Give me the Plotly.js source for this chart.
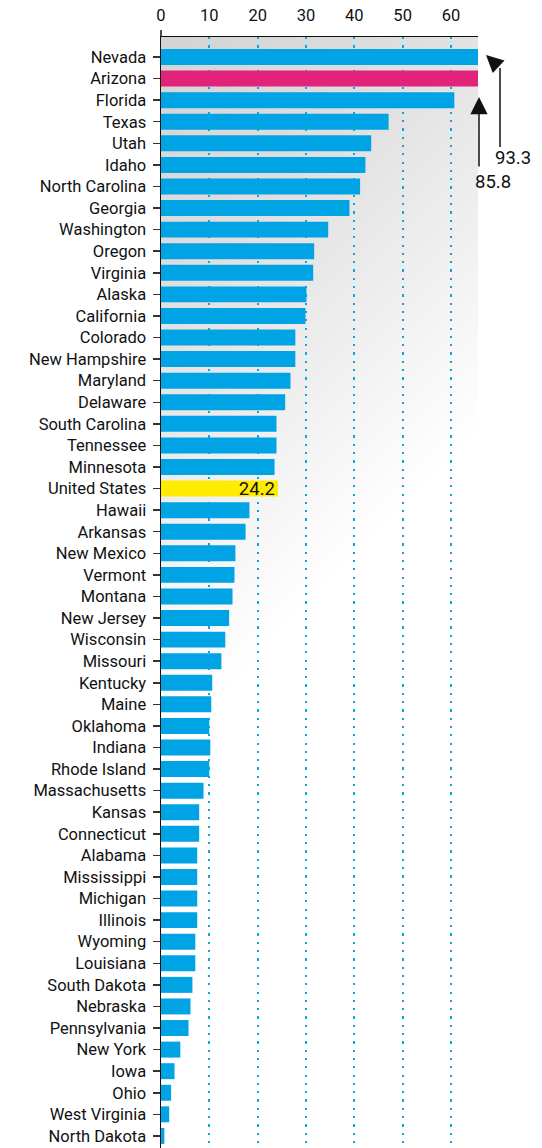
<!DOCTYPE html>
<html>
<head>
<meta charset="utf-8">
<script src="https://cdn.plot.ly/plotly-3.0.1.min.js"></script>
<style>
html,body{margin:0;padding:0;background:#fff;}
#chart{width:542px;height:1148px;}
</style>
</head>
<body>
<div id="chart"></div>
<script>
// ---- data ----
const states = [
  "Nevada","Arizona","Florida","Texas","Utah","Idaho","North Carolina","Georgia",
  "Washington","Oregon","Virginia","Alaska","California","Colorado","New Hampshire",
  "Maryland","Delaware","South Carolina","Tennessee","Minnesota","United States",
  "Hawaii","Arkansas","New Mexico","Vermont","Montana","New Jersey","Wisconsin",
  "Missouri","Kentucky","Maine","Oklahoma","Indiana","Rhode Island","Massachusetts",
  "Kansas","Connecticut","Alabama","Mississippi","Michigan","Illinois","Wyoming",
  "Louisiana","South Dakota","Nebraska","Pennsylvania","New York","Iowa","Ohio",
  "West Virginia","North Dakota"
];
const values = [
  93.3, 85.8, 60.7, 47.1, 43.5, 42.3, 41.2, 39.0,
  34.6, 31.7, 31.5, 30.1, 29.9, 27.8, 27.8,
  26.8, 25.7, 23.9, 23.9, 23.5, 24.2,
  18.3, 17.5, 15.4, 15.2, 14.8, 14.1, 13.3,
  12.5, 10.6, 10.4, 10.0, 10.2, 10.0, 8.8,
  7.9, 7.9, 7.5, 7.5, 7.5, 7.5, 7.1,
  7.1, 6.5, 6.1, 5.7, 4.0, 2.8, 2.1,
  1.7, 0.7
];
const xTicks = [0, 10, 20, 30, 40, 50, 60];
const highlightState = "Arizona";
const averageLabel = "United States";
const offscaleLabels = ["93.3", "85.8"];

// ---- style ----
const BLUE = "#00a3e3", PINK = "#e2237b", YELLOW = "#ffeb00";
const FONT = "Roboto, 'Noto Sans', sans-serif";
const W = 542, H = 1148;
const M = {l: 161, r: 64, t: 37, b: 0};
const PW = W - M.l - M.r, PH = H - M.t - M.b;
const px = v => (v - M.l) / PW;          // pixel -> paper x
const py = v => 1 - (v - M.t) / PH;      // pixel -> paper y

const colors = states.map(s => s === highlightState ? PINK : (s === averageLabel ? YELLOW : BLUE));
const texts = states.map((s, i) => s === averageLabel ? values[i].toFixed(1) : "");

const trace = {
  type: "bar",
  orientation: "h",
  x: values,
  y: states,
  marker: {color: colors, line: {width: 0}},
  text: texts,
  textposition: "inside",
  insidetextanchor: "end",
  constraintext: "none",
  textfont: {family: FONT, size: 18.5, color: "#111"},
  hoverinfo: "none"
};

// gradient background (decoration)
const svg = `<svg xmlns='http://www.w3.org/2000/svg' width='${PW}' height='${PH}' viewBox='0 0 ${PW} ${PH}' preserveAspectRatio='none'>
<defs><linearGradient id='g' gradientUnits='userSpaceOnUse' x1='0' y1='0' x2='359' y2='359'>
<stop offset='0' stop-color='#d3d3d3'/><stop offset='0.35' stop-color='#dedede'/><stop offset='1' stop-color='#ffffff'/>
</linearGradient></defs><rect x='0' y='0' width='${PW}' height='${PH}' fill='url(#g)'/></svg>`;
const svgURI = "data:image/svg+xml;charset=utf-8," + encodeURIComponent(svg);

const layout = {
  width: W, height: H,
  margin: M,
  paper_bgcolor: "#ffffff",
  plot_bgcolor: "rgba(0,0,0,0)",
  showlegend: false,
  bargap: 0.26,
  font: {family: FONT, color: "#111"},
  xaxis: {
    side: "top",
    range: [0, 65.6],
    tickvals: xTicks,
    ticktext: xTicks.map(String),
    ticks: "",
    ticklabelstandoff: 8,
    tickfont: {family: FONT, size: 16.5, color: "#111"},
    showline: true, linecolor: "#111", linewidth: 1.5,
    showgrid: true, gridcolor: "#12a4e0", gridwidth: 2.2, griddash: "2.2px,6.1px",
    zeroline: false,
    fixedrange: true
  },
  yaxis: {
    type: "category",
    range: [50.56, -0.927],
    ticks: "outside", ticklen: 7, tickwidth: 1.5, tickcolor: "#333",
    ticklabelstandoff: 3,
    tickfont: {family: FONT, size: 16.5, color: "#111"},
    showline: true, linecolor: "#111", linewidth: 1.5,
    showgrid: false, zeroline: false,
    fixedrange: true
  },
  images: [{
    source: svgURI, xref: "paper", yref: "paper",
    x: 0, y: 1, sizex: 1, sizey: 1, xanchor: "left", yanchor: "top",
    sizing: "stretch", layer: "below"
  }],
  shapes: [
    {type: "line", xref: "paper", yref: "paper", x0: 0, x1: 0, y0: 1, y1: py(30),
     line: {color: "#111", width: 1.5}},
    {type: "line", xref: "paper", yref: "paper", x0: px(500), x1: px(500), y0: py(68), y1: py(147),
     line: {color: "#111", width: 1.5}}
  ],
  annotations: [
    {xref: "paper", yref: "paper", x: px(479), y: py(97), ax: 0, ay: 71, text: "",
     showarrow: true, arrowhead: 2, arrowsize: 2.3, arrowwidth: 1.5, arrowcolor: "#111"},
    {xref: "paper", yref: "paper", x: px(473), y: py(182), text: offscaleLabels[1],
     showarrow: false, xanchor: "left", yanchor: "middle",
     font: {family: FONT, size: 18.5, color: "#111"}},
    {xref: "paper", yref: "paper", x: px(486), y: py(55), ax: 14, ay: 13, text: "",
     showarrow: true, arrowhead: 2, arrowsize: 2.3, arrowwidth: 1.5, arrowcolor: "#111"},
    {xref: "paper", yref: "paper", x: px(493), y: py(158), text: offscaleLabels[0],
     showarrow: false, xanchor: "left", yanchor: "middle",
     font: {family: FONT, size: 18.5, color: "#111"}}
  ]
};

Plotly.newPlot("chart", [trace], layout, {displayModeBar: false, staticPlot: true});
</script>
</body>
</html>
